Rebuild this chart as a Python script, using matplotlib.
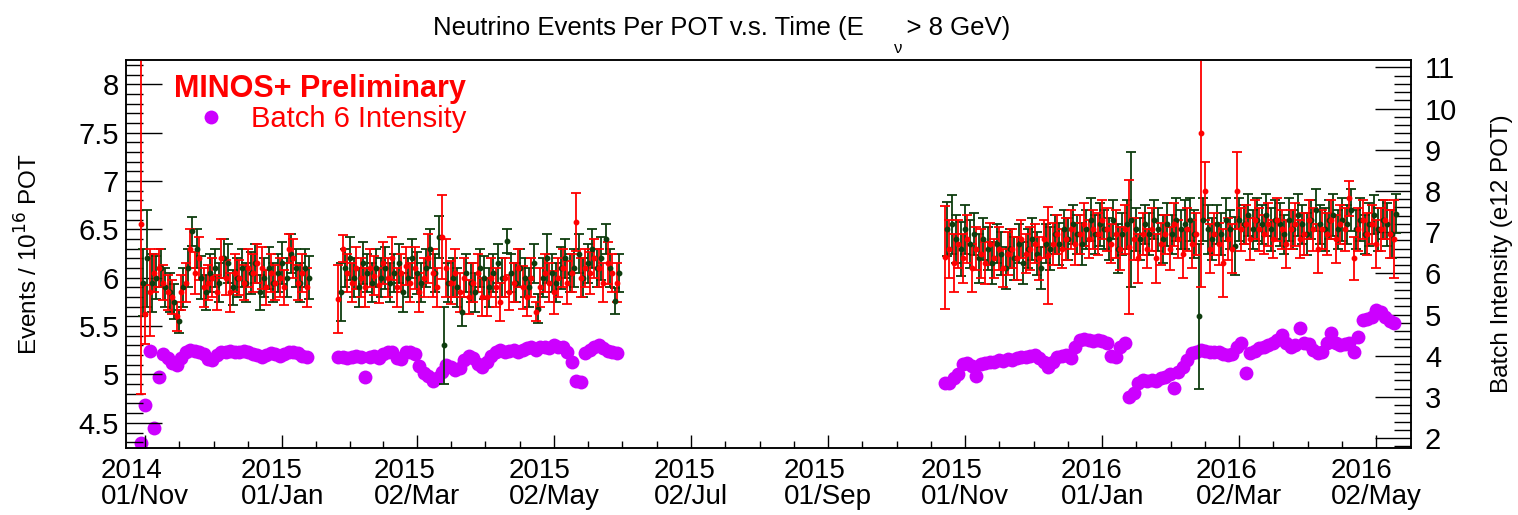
import matplotlib
matplotlib.use("Agg")
import matplotlib.pyplot as plt
import matplotlib.dates as mdates
import numpy as np
import pandas as pd
from matplotlib.ticker import FixedLocator, MultipleLocator, FormatStrFormatter
from matplotlib.transforms import Bbox, TransformedBbox

plt.rcParams['font.family'] = ['Liberation Sans', 'DejaVu Sans']

# three running periods, one bin every 2 days (red), green bins sit one day later
run_starts = ['2014-10-30', '2015-01-26', '2015-10-23']
run_bins = [38, 63, 101]

red_events = [
    # run 1
    6.55, 5.62, 5.85, 6.05, 6.10, 5.95, 5.85, 5.80, 5.60, 5.85,
    5.95, 6.30, 6.05, 6.20, 5.90, 5.95, 6.00, 5.85, 6.20, 6.00,
    5.85, 6.05, 6.00, 5.95, 6.10, 6.05, 6.15, 6.10, 5.90, 6.05,
    5.95, 6.00, 5.90, 6.30, 6.20, 5.95, 6.05, 5.90,
    # run 2
    5.78, 6.30, 6.05, 5.95, 6.10, 6.00, 5.90, 6.10, 6.02, 5.92,
    6.15, 6.00, 6.20, 5.90, 6.05, 6.12, 5.95, 6.10, 5.85, 6.00,
    6.20, 6.05, 5.90, 6.42, 6.10, 5.95, 6.05, 5.85, 6.00, 5.80,
    5.95, 6.05, 5.80, 5.80, 6.00, 5.90, 5.75, 6.00, 5.85, 5.95,
    6.10, 5.90, 5.80, 6.00, 5.65, 5.90, 6.05, 5.95, 5.85, 6.00,
    6.10, 5.95, 6.05, 6.58, 6.00, 6.10, 6.05, 6.20, 6.10, 5.95,
    6.15, 6.05, 5.95,
    # run 3
    6.21, 6.30, 6.15, 6.35, 6.20, 6.40, 6.10, 6.30, 6.25, 6.15,
    6.35, 6.20, 6.30, 6.10, 6.25, 6.30, 6.20, 6.40, 6.25, 6.30,
    6.35, 6.20, 6.40, 6.23, 6.35, 6.45, 6.30, 6.40, 6.50, 6.35,
    6.45, 6.55, 6.40, 6.50, 6.45, 6.60, 6.50, 6.35, 6.45, 6.30,
    6.50, 6.32, 6.40, 6.20, 6.45, 6.30, 6.50, 6.20, 6.35, 6.45,
    6.30, 6.55, 6.40, 6.25, 6.50, 6.35, 6.45, 7.50, 6.90, 6.30,
    6.45, 6.35, 6.15, 6.40, 6.30, 6.90, 6.50, 6.55, 6.40, 6.60,
    6.50, 6.45, 6.55, 6.40, 6.60, 6.50, 6.35, 6.50, 6.55, 6.40,
    6.45, 6.60, 6.50, 6.30, 6.50, 6.45, 6.60, 6.40, 6.55, 6.50,
    6.82, 6.20, 6.50, 6.60, 6.45, 6.55, 6.35, 6.50, 6.60, 6.45,
    6.40,
]
red_err = [
    1.75, 0.30, 0.45, 0.20, 0.20, 0.18, 0.18, 0.18, 0.15, 0.18,
    0.20, 0.20, 0.22, 0.22, 0.20, 0.18, 0.20, 0.18, 0.20, 0.18,
    0.20, 0.20, 0.18, 0.18, 0.20, 0.20, 0.20, 0.22, 0.18, 0.20,
    0.18, 0.20, 0.18, 0.15, 0.20, 0.18, 0.20, 0.20,
    0.35, 0.14, 0.20, 0.20, 0.22, 0.20, 0.20, 0.20, 0.20, 0.18,
    0.22, 0.20, 0.22, 0.20, 0.20, 0.20, 0.20, 0.22, 0.20, 0.20,
    0.25, 0.25, 0.20, 0.43, 0.30, 0.22, 0.25, 0.20, 0.20, 0.18,
    0.20, 0.20, 0.20, 0.20, 0.20, 0.20, 0.20, 0.20, 0.18, 0.20,
    0.20, 0.22, 0.20, 0.20, 0.10, 0.20, 0.20, 0.20, 0.22, 0.20,
    0.20, 0.22, 0.20, 0.30, 0.20, 0.20, 0.22, 0.20, 0.20, 0.20,
    0.22, 0.20, 0.20,
    0.53, 0.30, 0.30, 0.25, 0.25, 0.25, 0.25, 0.22, 0.25, 0.22,
    0.22, 0.20, 0.22, 0.20, 0.22, 0.20, 0.22, 0.20, 0.20, 0.22,
    0.20, 0.22, 0.20, 0.50, 0.22, 0.20, 0.20, 0.22, 0.20, 0.22,
    0.20, 0.22, 0.20, 0.20, 0.22, 0.20, 0.22, 0.20, 0.25, 0.22,
    0.25, 0.69, 0.22, 0.25, 0.22, 0.20, 0.22, 0.25, 0.22, 0.20,
    0.22, 0.22, 0.20, 0.25, 0.22, 0.25, 0.22, 1.60, 0.30, 0.25,
    0.22, 0.22, 0.35, 0.22, 0.25, 0.40, 0.22, 0.20, 0.22, 0.20,
    0.22, 0.20, 0.22, 0.20, 0.22, 0.20, 0.25, 0.20, 0.22, 0.20,
    0.22, 0.20, 0.22, 0.25, 0.20, 0.22, 0.20, 0.25, 0.20, 0.22,
    0.18, 0.22, 0.22, 0.20, 0.22, 0.20, 0.25, 0.22, 0.20, 0.25,
    0.40,
]

green_events = [
    5.95, 6.20, 5.95, 6.00, 6.10, 5.90, 5.85, 5.75, 5.55, 5.90,
    6.10, 6.48, 6.30, 6.00, 5.85, 6.05, 6.10, 5.95, 6.20, 6.15,
    5.90, 6.00, 6.10, 5.95, 6.05, 6.15, 5.85, 6.00, 6.10, 5.95,
    6.05, 6.15, 6.00, 6.25, 6.10, 5.95, 6.10, 6.00,
    5.85, 6.10, 6.20, 6.00, 5.90, 6.15, 6.05, 5.95, 6.10, 6.00,
    6.10, 5.95, 6.05, 6.15, 5.85, 6.00, 6.20, 6.05, 5.95, 6.10,
    6.30, 6.05, 6.42, 5.30, 5.95, 6.00, 5.90, 5.65, 6.05, 5.95,
    5.85, 6.10, 6.00, 5.90, 6.05, 6.15, 6.00, 6.38, 6.05, 5.95,
    6.10, 6.00, 5.90, 6.15, 5.68, 6.00, 6.20, 6.05, 5.95, 6.10,
    6.20, 6.05, 6.10, 6.25, 6.00, 6.15, 6.30, 6.10, 6.20, 6.40,
    6.10, 5.76, 6.05,
    6.50, 6.55, 6.40, 6.30, 6.50, 6.35, 6.45, 6.20, 6.40, 6.30,
    6.15, 6.35, 6.25, 6.10, 6.30, 6.20, 6.35, 6.15, 6.30, 6.40,
    6.25, 6.10, 6.35, 6.30, 6.45, 6.35, 6.50, 6.40, 6.55, 6.45,
    6.35, 6.50, 6.60, 6.45, 6.55, 6.50, 6.40, 6.60, 6.30, 6.45,
    6.55, 6.60, 6.50, 6.40, 6.55, 6.45, 6.60, 6.50, 6.40, 6.55,
    6.45, 6.60, 6.50, 6.55, 6.60, 6.45, 5.60, 6.60, 6.50, 6.40,
    6.55, 6.45, 6.60, 6.50, 6.33, 6.60, 6.55, 6.65, 6.50, 6.60,
    6.55, 6.65, 6.50, 6.60, 6.55, 6.45, 6.60, 6.50, 6.65, 6.55,
    6.45, 6.60, 6.70, 6.55, 6.50, 6.60, 6.65, 6.50, 6.60, 6.55,
    6.70, 6.50, 6.60, 6.45, 6.55, 6.65, 6.50, 6.60, 6.55, 6.45,
    6.66,
]
green_err = [
    0.35, 0.50, 0.30, 0.22, 0.20, 0.20, 0.20, 0.18, 0.12, 0.20,
    0.20, 0.15, 0.20, 0.22, 0.18, 0.20, 0.20, 0.20, 0.20, 0.20,
    0.18, 0.20, 0.20, 0.20, 0.22, 0.20, 0.18, 0.20, 0.22, 0.20,
    0.20, 0.22, 0.20, 0.20, 0.20, 0.20, 0.20, 0.22,
    0.30, 0.20, 0.22, 0.20, 0.20, 0.22, 0.20, 0.20, 0.20, 0.20,
    0.22, 0.20, 0.20, 0.20, 0.20, 0.20, 0.20, 0.22, 0.20, 0.20,
    0.20, 0.20, 0.22, 0.40, 0.20, 0.20, 0.20, 0.15, 0.20, 0.20,
    0.20, 0.20, 0.22, 0.20, 0.20, 0.20, 0.20, 0.12, 0.20, 0.20,
    0.20, 0.20, 0.20, 0.20, 0.15, 0.20, 0.25, 0.20, 0.20, 0.22,
    0.20, 0.20, 0.20, 0.20, 0.20, 0.20, 0.20, 0.20, 0.22, 0.15,
    0.20, 0.13, 0.20,
    0.28, 0.30, 0.25, 0.28, 0.25, 0.25, 0.22, 0.25, 0.22, 0.22,
    0.22, 0.20, 0.22, 0.22, 0.20, 0.22, 0.20, 0.22, 0.20, 0.22,
    0.22, 0.22, 0.20, 0.22, 0.20, 0.22, 0.20, 0.22, 0.20, 0.20,
    0.22, 0.20, 0.22, 0.20, 0.22, 0.20, 0.22, 0.20, 0.25, 0.22,
    0.25, 0.70, 0.22, 0.22, 0.20, 0.22, 0.20, 0.22, 0.25, 0.22,
    0.20, 0.22, 0.20, 0.25, 0.22, 0.25, 0.75, 0.22, 0.25, 0.22,
    0.20, 0.22, 0.22, 0.20, 0.30, 0.22, 0.20, 0.22, 0.20, 0.22,
    0.20, 0.22, 0.22, 0.20, 0.22, 0.20, 0.22, 0.20, 0.22, 0.20,
    0.22, 0.20, 0.22, 0.20, 0.22, 0.20, 0.22, 0.20, 0.22, 0.20,
    0.22, 0.20, 0.22, 0.20, 0.22, 0.20, 0.22, 0.20, 0.22, 0.25,
    0.20,
]

# batch 6 intensity, e12 POT (right axis), same bins as red
batch6 = [
    1.88, 2.80, 4.12, 2.24, 3.48, 4.05, 3.95, 3.82, 3.78, 3.95,
    4.10, 4.13, 4.12, 4.10, 4.05, 3.92, 3.90, 4.02, 4.08, 4.10,
    4.12, 4.10, 4.08, 4.12, 4.10, 4.05, 4.02, 3.98, 4.02, 4.06,
    4.04, 4.00, 4.05, 4.10, 4.08, 4.06, 4.00, 3.98,
    3.97, 3.98, 3.95, 3.98, 4.00, 3.96, 3.48, 3.98, 4.00, 3.95,
    4.05, 4.08, 4.10, 3.95, 3.92, 4.08, 4.10, 4.05, 3.75, 3.58,
    3.50, 3.38, 3.45, 3.60, 3.77, 3.72, 3.65, 3.70, 3.90, 4.00,
    3.95, 3.80, 3.72, 3.85, 4.00, 4.08, 4.14, 4.10, 4.12, 4.15,
    4.10, 4.14, 4.18, 4.20, 4.15, 4.20, 4.22, 4.18, 4.25, 4.22,
    4.20, 4.10, 3.84, 3.38, 3.36, 4.06, 4.15, 4.22, 4.25, 4.18,
    4.12, 4.10, 4.06,
    3.33, 3.35, 3.45, 3.55, 3.80, 3.82, 3.75, 3.50, 3.80, 3.82,
    3.86, 3.85, 3.90, 3.88, 3.92, 3.90, 3.95, 3.96, 3.98, 4.00,
    4.02, 3.95, 3.85, 3.72, 3.85, 3.98, 4.00, 4.02, 3.94, 4.20,
    4.38, 4.40, 4.38, 4.36, 4.38, 4.35, 4.32, 4.00, 3.97, 4.20,
    4.30, 3.00, 3.10, 3.35, 3.40, 3.38, 3.42, 3.38, 3.45, 3.48,
    3.55, 3.22, 3.60, 3.72, 3.90, 4.06, 4.10, 4.13, 4.12, 4.10,
    4.09, 4.08, 4.05, 4.02, 4.05, 4.22, 4.30, 3.58, 4.06, 4.12,
    4.18, 4.21, 4.25, 4.30, 4.38, 4.50, 4.30, 4.21, 4.25, 4.67,
    4.30, 4.28, 4.15, 4.06, 4.10, 4.30, 4.55, 4.30, 4.26, 4.28,
    4.30, 4.09, 4.45, 4.86, 4.90, 4.95, 5.10, 5.05, 4.94, 4.85,
    4.79,
]

tick_dates = ['2014-11-01', '2015-01-01', '2015-03-02', '2015-05-02', '2015-07-02',
              '2015-09-01', '2015-11-01', '2016-01-01', '2016-03-02', '2016-05-02']

red_dates = pd.DatetimeIndex(np.concatenate(
    [pd.date_range(s, periods=n, freq='2D').values for s, n in zip(run_starts, run_bins)]))
green_dates = red_dates + pd.Timedelta(days=1)

RED = '#ff0000'
GREEN = '#0e3d0e'
VIOLET = '#cc00ff'

W, H = 1518, 515
fig = plt.figure(figsize=(W / 100, H / 100), dpi=100)
ax = fig.add_axes([126 / W, 67 / H, 1285 / W, 388 / H])
ax2 = ax.twinx()
ax.set_zorder(ax2.get_zorder() + 1)
ax.patch.set_visible(False)

ax2.plot(red_dates, batch6, 'o', color=VIOLET, ms=10, mec='none', label='Batch 6 Intensity')

ebk = dict(fmt='o', ms=3.2, capsize=3.3, elinewidth=1.3, capthick=1.3)
ax.errorbar(green_dates, green_events, yerr=green_err, color=GREEN, **ebk)
ax.errorbar(red_dates, red_events, yerr=red_err, color=RED, **ebk)

ax.set_xlim(pd.Timestamp('2014-10-23 12:00'), pd.Timestamp('2016-05-17 12:00'))
ax.set_ylim(4.24, 8.25)
ax2.set_ylim(1.76, 11.18)

# x ticks
major = mdates.date2num(pd.to_datetime(tick_dates))
minor = []
for a, b in zip(major[:-1], major[1:]):
    minor += [a + (b - a) * f for f in (0.25, 0.5, 0.75)]
ax.xaxis.set_major_locator(FixedLocator(major))
ax.xaxis.set_minor_locator(FixedLocator(minor))
ax.xaxis.set_major_formatter(mdates.DateFormatter('%Y\n%d/%b'))

ax.yaxis.set_major_locator(MultipleLocator(0.5))
ax.yaxis.set_minor_locator(MultipleLocator(0.1))
ax.yaxis.set_major_formatter(FormatStrFormatter('%g'))
ax2.yaxis.set_major_locator(MultipleLocator(1))
ax2.yaxis.set_minor_locator(MultipleLocator(0.2))

ax.tick_params(axis='y', which='major', direction='in', length=26, width=1, labelsize=21, pad=5, right=False)
ax.tick_params(axis='y', which='minor', direction='in', length=12.5, width=1, right=False)
ax.tick_params(axis='x', which='major', direction='in', length=9.5, width=1, labelsize=20, pad=7, top=False)
ax.tick_params(axis='x', which='minor', direction='in', length=5, width=1, top=False)
ax2.tick_params(axis='y', which='major', direction='in', length=26, width=1, labelsize=21, pad=10)
ax2.tick_params(axis='y', which='minor', direction='in', length=12.5, width=1)

for a in (ax, ax2):
    for sp in a.spines.values():
        sp.set_linewidth(1.1)

ax.set_ylabel('Events / 10$^{16}$ POT', fontsize=17.5)
ax.yaxis.set_label_coords(-0.065, 0.5)
ax2.set_ylabel('Batch Intensity (e12 POT)', fontsize=17.5)
ax2.yaxis.set_label_coords(1.062, 0.5)

fig.text(0.4755, 1 - 35 / H, 'Neutrino Events Per POT v.s. Time (E      > 8 GeV)',
         ha='center', va='baseline', fontsize=18.5)
fig.text(898 / W, 1 - 53 / H, 'ν', ha='center', va='baseline', fontsize=12)

# header line of the legend, its descender is cut off as in the original
base = (448 - 97) / 388
head = ax2.text(0.2646, base, 'MINOS+ Preliminary', transform=ax2.transAxes,
                ha='right', va='baseline', color=RED, fontsize=22, fontweight='bold')
head.set_clip_box(TransformedBbox(Bbox([[0, base - 0.003], [1, 1.2]]), ax2.transAxes))

leg = ax2.legend(loc='upper right', bbox_to_anchor=(0.2646, (448 - 105) / 388), frameon=False,
                 borderpad=0, borderaxespad=0, fontsize=21, labelcolor=RED,
                 handlelength=1.0, handletextpad=0.85)

fig.canvas.draw()
for lbl in ax.get_xticklabels():
    lbl.set_linespacing(1.0)
    lbl.set_multialignment('left')

fig.savefig('out.png', dpi=100)
